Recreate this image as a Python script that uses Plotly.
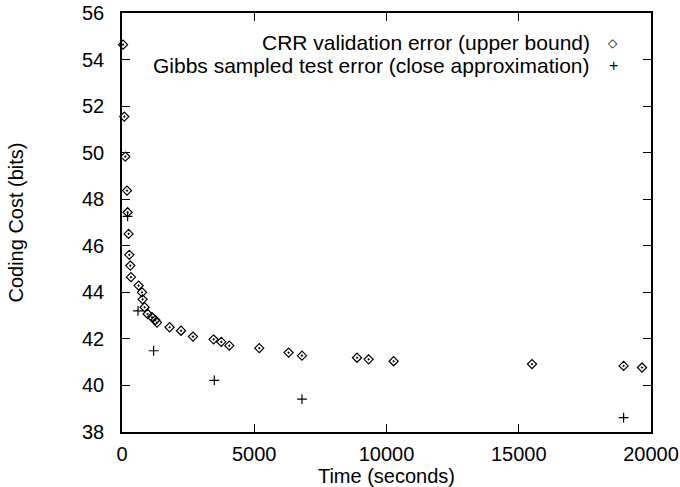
import plotly.graph_objects as go

# CRR validation error (upper bound)
crr_time = [40, 87, 125, 189, 212, 250, 276, 314, 340, 628, 756, 779, 854, 968,
            1134, 1259, 1323, 1800, 2231, 2684, 3463, 3754, 4057, 5191, 6299,
            6805, 8885, 9324, 10269, 15501, 18964, 19660]
crr_cost = [54.64, 51.55, 49.83, 48.37, 47.44, 46.51, 45.61, 45.15, 44.65, 44.29,
            44.0, 43.7, 43.36, 43.07, 42.93, 42.81, 42.70, 42.5, 42.35, 42.1,
            41.98, 41.87, 41.71, 41.60, 41.41, 41.28, 41.19, 41.12, 41.04, 40.92,
            40.84, 40.77]

# Gibbs sampled test error (close approximation)
gibbs_time = [212, 605, 1195, 3490, 6805, 18964]
gibbs_cost = [47.26, 43.2, 41.49, 40.22, 39.41, 38.62]

x_ticks = [0, 5000, 10000, 15000, 20000]
y_ticks = [38, 40, 42, 44, 46, 48, 50, 52, 54, 56]

FONT = "Liberation Sans, Arial, Helvetica, sans-serif"
FS = 20
LFS = 21

PX0, PX1, PY0, PY1 = 121.7, 650.7, 13.3, 431.7   # plot frame in window pixels
L, R, T, B = PX0, 680 - PX1, PY0, 487 - PY1

fig = go.Figure()
fig.add_trace(go.Scatter(
    x=crr_time, y=crr_cost, mode="markers", name="CRR validation error (upper bound)",
    marker=dict(symbol="diamond-open-dot", size=7, color="black", line=dict(width=1.2, color="black")),
    showlegend=False, cliponaxis=False))
fig.add_trace(go.Scatter(
    x=gibbs_time, y=gibbs_cost, mode="markers", name="Gibbs sampled test error (close approximation)",
    marker=dict(symbol="cross-thin-open", size=7, color="black", line=dict(width=1.2, color="black")),
    showlegend=False, cliponaxis=False))

axis_common = dict(showline=True, linecolor="black", linewidth=1.5, mirror="ticks",
                   ticks="inside", ticklen=8, tickwidth=1, tickcolor="black",
                   showgrid=False, zeroline=False,
                   tickfont=dict(family=FONT, size=FS, color="black"))

fig.update_xaxes(range=[0, 20000], tickvals=x_ticks, ticktext=[str(v) for v in x_ticks],
                 title=dict(text="Time (seconds)", font=dict(family=FONT, size=FS, color="black"), standoff=4),
                 ticklabelstandoff=3, **axis_common)
fig.update_yaxes(range=[38, 56], tickvals=y_ticks, ticktext=[str(v) for v in y_ticks],
                 title=dict(text="Coding Cost (bits)", font=dict(family=FONT, size=FS, color="black"), standoff=53),
                 ticklabelstandoff=12, **axis_common)

# legend drawn as right-aligned text with sample symbols on the right
legend_items = [("CRR validation error (upper bound)", "◇", 43),
                ("Gibbs sampled test error (close approximation)", "+", 66)]
for label, sym, ypx in legend_items:
    yp = 1 - (ypx - PY0) / (PY1 - PY0)
    fig.add_annotation(x=(592 - PX0) / (PX1 - PX0), y=yp, xref="paper", yref="paper",
                       text=label, showarrow=False, xanchor="right", yanchor="middle",
                       font=dict(family=FONT, size=LFS, color="black"))
    fig.add_annotation(x=(613 - PX0) / (PX1 - PX0), y=yp, xref="paper", yref="paper",
                       text=sym, showarrow=False, xanchor="center", yanchor="middle",
                       font=dict(family="DejaVu Sans" if sym == "◇" else FONT,
                                 size=12 if sym == "◇" else 16, color="black"))

fig.update_layout(width=680, height=487, margin=dict(l=L, r=R, t=T, b=B, pad=0, autoexpand=False),
                  plot_bgcolor="white", paper_bgcolor="white",
                  font=dict(family=FONT, size=FS, color="black"))

fig.write_html("out.html", config={"displayModeBar": False},
               post_script="document.body.style.margin='0px';")
